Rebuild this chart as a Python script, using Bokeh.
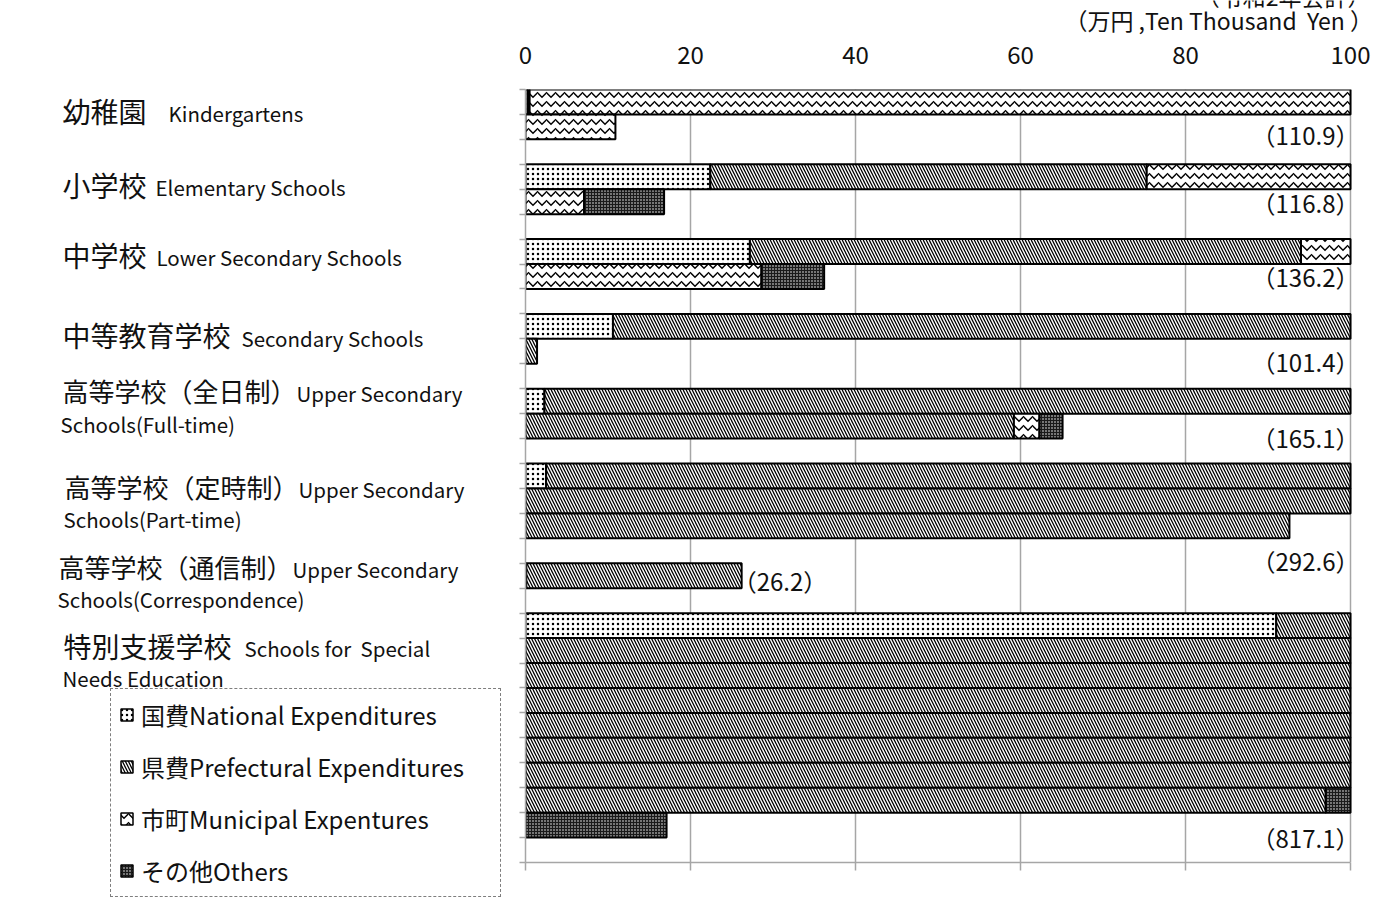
import math
from bokeh.plotting import figure
from bokeh.layouts import row, column
from bokeh.models import (ColumnDataSource, Range1d, LinearAxis, FixedTicker,
                          Legend, LegendItem)
from bokeh.core.properties import value
from bokeh.embed import file_html
from bokeh.resources import INLINE

# ---------------- data ----------------
categories_ja = ["幼稚園", "小学校", "中学校", "中等教育学校", "高等学校（全日制）",
                 "高等学校（定時制）", "高等学校（通信制）", "特別支援学校"]
categories_en = ["Kindergartens", "Elementary Schools", "Lower Secondary Schools",
                 "Secondary Schools", "Upper Secondary|Schools(Full-time)",
                 "Upper Secondary|Schools(Part-time)", "Upper Secondary|Schools(Correspondence)",
                 "Schools for\u00a0 Special|Needs Education"]
national = [0.3, 22.4, 27.2, 10.6, 2.3, 2.5, 0.1, 91.0]
prefectural = [0.2, 52.9, 66.8, 90.8, 156.9, 290.1, 26.1, 706.0]
municipal = [110.4, 31.8, 34.6, 0.0, 3.1, 0.0, 0.0, 0.0]
others = [0.0, 9.7, 7.6, 0.0, 2.8, 0.0, 0.0, 20.1]
totals = [110.9, 116.8, 136.2, 101.4, 165.1, 292.6, 26.2, 817.1]
series_names = ["国費National Expenditures", "県費Prefectural Expenditures",
                "市町Municipal Expentures", "その他Others"]
x_ticks = [0, 20, 40, 60, 80, 100]
unit_text = "（万円 ,Ten Thousand\u00a0 Yen ）"
year_text = "（令和2年会計）"
ROW_CAP = 100.0

# ---------------- layout of wrapped rows ----------------
start_rows = []
r = 0
for t in totals:
    start_rows.append(r)
    r += int(math.ceil(t / ROW_CAP - 1e-9)) + 1
n_slots = r

def split(start_row, offset, length):
    pieces = []
    c, rem = offset, length
    while rem > 1e-9:
        rw = int(math.floor(c / ROW_CAP + 1e-9))
        left = max(0.0, c - rw * ROW_CAP)
        w = min(rem, ROW_CAP - left)
        pieces.append((start_row + rw + 0.5, left, left + w))
        c += w
        rem -= w
    return pieces

series_vals = [national, prefectural, municipal, others]
sources = []
cum = [0.0] * len(totals)
for vals in series_vals:
    ys, ls, rs = [], [], []
    for k, v in enumerate(vals):
        for (y, l, rr) in split(start_rows[k], cum[k], v):
            ys.append(y); ls.append(l); rs.append(rr)
        cum[k] += v
    sources.append(ColumnDataSource(dict(y=ys, left=ls, right=rs)))

FONT = "Noto Sans CJK JP"
TXT = "#111111"
GRID = "#a6a6a6"
W, H = 1371, 898
TOP_H = 36
LEFT_W = 510
PX_PER_UNIT = 8.25

styles = [
    dict(fill_color="white", hatch_pattern="dot", hatch_color="black", hatch_scale=5, hatch_weight=1.2),
    dict(fill_color="white", hatch_pattern="left_diagonal_line", hatch_color="black", hatch_scale=6, hatch_weight=1.3),
    dict(fill_color="white", hatch_pattern="horizontal_wave", hatch_color="black", hatch_scale=9, hatch_weight=1.5),
    dict(fill_color="#1a1a1a", hatch_pattern="dot", hatch_color="white", hatch_scale=3, hatch_weight=1.2),
]

def bare(fig):
    fig.outline_line_color = None
    fig.background_fill_color = "white"
    fig.border_fill_color = "white"
    fig.xgrid.visible = False
    fig.ygrid.visible = False
    fig.xaxis.visible = False
    fig.yaxis.visible = False
    fig.frame_align = False

# ---------------- top strip (unit header) ----------------
top = figure(width=W, height=TOP_H, output_backend="svg", toolbar_location=None,
             x_range=Range1d(0, W), y_range=Range1d(TOP_H, 0), min_border=0)
bare(top)
top.text(x=[W - 1], y=[19], text=[unit_text],
         text_font=value(FONT), text_font_size=value("23px"), text_align="right",
         text_baseline="middle", text_color=TXT)
top.text(x=[W - 1], y=[-5], text=[year_text],
         text_font=value(FONT), text_font_size=value("23px"), text_align="right",
         text_baseline="middle", text_color=TXT)

# ---------------- main chart ----------------
RIGHT_W = W - LEFT_W
BL = 525 - LEFT_W
FRAME_W = RIGHT_W - BL - 1
x_max = FRAME_W / PX_PER_UNIT
p = figure(width=RIGHT_W, height=H - TOP_H, output_backend="svg", toolbar_location=None,
           x_range=Range1d(0, x_max), y_range=Range1d(n_slots, 0),
           x_axis_location="above", min_border_left=BL, min_border_right=1,
           min_border_top=89 - TOP_H, min_border_bottom=H - 862)
p.outline_line_color = None
p.background_fill_color = "white"
p.border_fill_color = "white"
p.frame_align = False

tick_x = FixedTicker(ticks=x_ticks)
xa = p.xaxis[0]
xa.ticker = tick_x
xa.axis_line_color = None
xa.major_tick_line_color = None
xa.minor_tick_line_color = None
xa.major_label_text_font = FONT
xa.major_label_text_font_size = "24px"
xa.major_label_text_color = TXT
xa.major_label_standoff = 20

bx = LinearAxis(ticker=FixedTicker(ticks=x_ticks), bounds=(0, 100),
                major_label_overrides={t: "" for t in x_ticks})
bx.axis_line_color = GRID
bx.axis_line_width = 1.5
bx.major_tick_line_color = GRID
bx.major_tick_line_width = 1.5
bx.major_tick_out = 8
bx.major_tick_in = 0
bx.minor_tick_line_color = None
bx.major_label_standoff = 0
p.add_layout(bx, "below")

ya = p.yaxis[0]
ya.ticker = FixedTicker(ticks=list(range(0, n_slots + 1)))
ya.major_label_overrides = {i: "" for i in range(0, n_slots + 1)}
ya.axis_line_color = GRID
ya.axis_line_width = 1.5
ya.major_tick_line_color = GRID
ya.major_tick_line_width = 1.5
ya.major_tick_out = 6
ya.major_tick_in = 0
ya.minor_tick_line_color = None
ya.major_label_standoff = 0

p.xgrid.ticker = tick_x
p.xgrid.grid_line_color = GRID
p.xgrid.grid_line_width = 1.5
p.ygrid.grid_line_color = None

for src, st in zip(sources, styles):
    p.hbar(y="y", left="left", right="right", height=1.0, source=src,
           line_color="black", line_width=2, **st)

# total value labels
label_dy = [0.80, 0.53, 0.50, 0.91, 0.96, 1.89, 0.69, 0.99]
rx, ry, rt, lx, lyy, lt = [], [], [], [], [], []
for k, t in enumerate(totals):
    nrows = int(math.ceil(t / ROW_CAP - 1e-9))
    last_row = start_rows[k] + nrows - 1
    s = f"（{t:.1f}）"
    if t < ROW_CAP * 0.8:
        lx.append(t); lyy.append(last_row + label_dy[k]); lt.append(s)
    else:
        rx.append(ROW_CAP); ry.append(last_row + label_dy[k]); rt.append(s)
p.text(x=rx, y=ry, text=rt, x_offset=9, text_font=value(FONT), text_font_size=value("24px"),
       text_align="right", text_baseline="middle", text_color=TXT)
p.text(x=lx, y=lyy, text=lt, x_offset=-9, text_font=value(FONT), text_font_size=value("24px"),
       text_align="left", text_baseline="middle", text_color=TXT)

# ---------------- left panel (category labels + legend) ----------------
left = figure(width=LEFT_W, height=H - TOP_H, output_backend="svg", toolbar_location=None,
              x_range=Range1d(0, LEFT_W), y_range=Range1d(H, TOP_H), min_border=0)
bare(left)

ja_pos = [(62, 110), (62, 184), (62, 254), (62, 334), (62, 390), (64, 486), (58, 566), (63, 645)]
en_pos = [[(168, 112)], [(155, 186)], [(156, 256)], [(241, 337)],
          [(296, 392), (60, 423)], [(298, 488), (63, 518)], [(292, 568), (57, 598)],
          [(244, 647), (62, 677)]]
jx1, jy1, jt1, jx2, jy2, jt2, ex_, ey_, et = [], [], [], [], [], [], [], [], []
for k in range(len(categories_ja)):
    if "（" in categories_ja[k]:
        jx2.append(ja_pos[k][0]); jy2.append(ja_pos[k][1]); jt2.append(categories_ja[k])
    else:
        jx1.append(ja_pos[k][0]); jy1.append(ja_pos[k][1]); jt1.append(categories_ja[k])
    for part, (ex, ey) in zip(categories_en[k].split("|"), en_pos[k]):
        ex_.append(ex); ey_.append(ey); et.append(part)
left.text(x=jx1, y=jy1, text=jt1, text_font=value(FONT), text_font_size=value("28px"),
          text_align="left", text_baseline="middle", text_color=TXT)
left.text(x=jx2, y=jy2, text=jt2, text_font=value(FONT), text_font_size=value("26px"),
          text_align="left", text_baseline="middle", text_color=TXT)
left.text(x=ex_, y=ey_, text=et, text_font=value(FONT), text_font_size=value("20.5px"),
          text_align="left", text_baseline="middle", text_color=TXT)

# legend renderers share the chart data but are hidden in this panel
legend_renderers = []
for src, st in zip(sources, styles):
    rr = left.hbar(y="y", left="left", right="right", height=1.0, source=src,
                   line_color="black", line_width=1.5, visible=False, **st)
    legend_renderers.append(rr)

legend = Legend(items=[LegendItem(label=n, renderers=[rr], index=0)
                       for n, rr in zip(series_names, legend_renderers)],
                location=(110, 1), orientation="vertical",
                label_text_font=FONT, label_text_font_size="24px",
                label_text_color=TXT,
                glyph_width=15, glyph_height=15, label_standoff=7,
                label_width=351, label_height=26, spacing=17, padding=8, margin=0,
                border_line_color="black", border_line_dash="dotted",
                border_line_width=1.5, background_fill_color="white",
                background_fill_alpha=1.0, inactive_fill_alpha=0.0,
                click_policy="none")
left.add_layout(legend, "center")

layout = column(top, row(left, p, spacing=0), spacing=0)
open("out.html", "w").write(file_html(layout, INLINE))
